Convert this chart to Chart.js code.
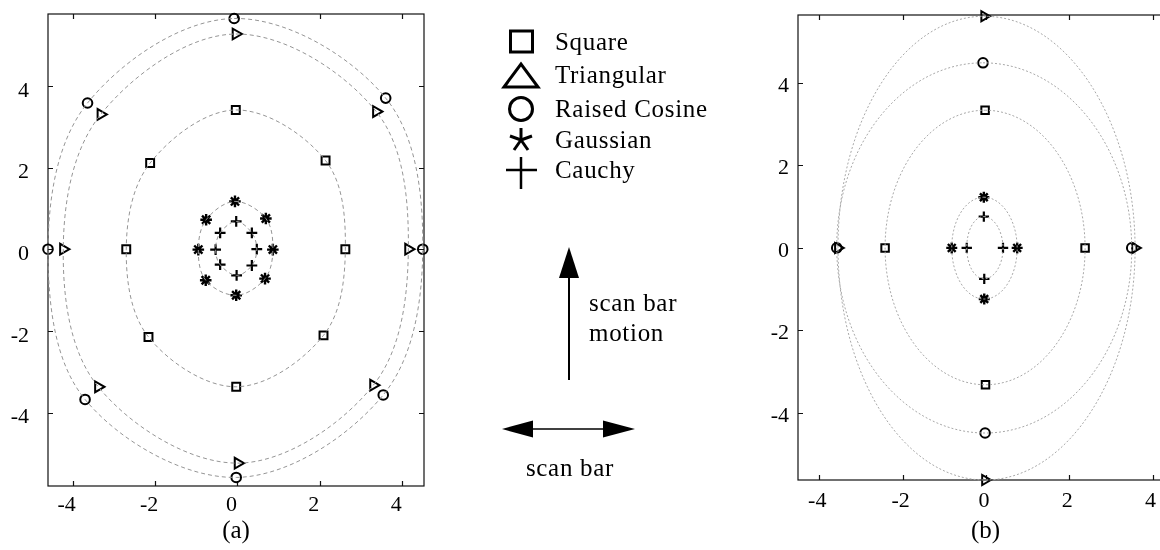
<!DOCTYPE html>
<html>
<head>
<meta charset="utf-8">
<title>scan bar point spread</title>
<script src="https://cdn.jsdelivr.net/npm/chart.js@4.4.1/dist/chart.umd.min.js"></script>
<style>
  html, body { margin:0; padding:0; background:#fff; }
  body { position:relative; width:1160px; height:550px; overflow:hidden; font-family:"Liberation Serif", "Times New Roman", serif; }
  .plot { position:absolute; top:0; width:440px; height:550px; }
  #wrapA { left:0; }
  #wrapB { left:750px; }
  #notes { position:absolute; left:0; top:0; width:1160px; height:550px; pointer-events:none; }
  #notes text { font-family:"Liberation Serif", "Times New Roman", serif; font-size:25px; letter-spacing:0.7px; fill:#000; }
</style>
</head>
<body>
<div class="plot" id="wrapA"><canvas id="plotA"></canvas></div>
<div class="plot" id="wrapB"><canvas id="plotB"></canvas></div>

<svg id="notes" width="1160" height="550">
  <!-- legend -->
  <rect x="510.5" y="31" width="22" height="21" fill="none" stroke="#000" stroke-width="3"/>
  <polygon points="504,87 538,87 521,64" fill="none" stroke="#000" stroke-width="3" stroke-linejoin="miter"/>
  <circle cx="521" cy="109" r="11.5" fill="none" stroke="#000" stroke-width="3"/>
  <g stroke="#000" stroke-width="3" stroke-linecap="butt">
    <line x1="521" y1="140" x2="521" y2="128"/>
    <line x1="521" y1="140" x2="532" y2="136"/>
    <line x1="521" y1="140" x2="510" y2="136"/>
    <line x1="521" y1="140" x2="528" y2="150"/>
    <line x1="521" y1="140" x2="514" y2="150"/>
  </g>
  <g stroke="#000" stroke-width="2.5">
    <line x1="521" y1="157" x2="521" y2="189"/>
    <line x1="506" y1="170" x2="537" y2="170"/>
  </g>
  <text x="555" y="50">Square</text>
  <text x="555" y="83">Triangular</text>
  <text x="555" y="117">Raised Cosine</text>
  <text x="555" y="148">Gaussian</text>
  <text x="555" y="178">Cauchy</text>

  <!-- scan bar motion arrow -->
  <line x1="569" y1="380" x2="569" y2="275" stroke="#000" stroke-width="2"/>
  <polygon points="569,247 559,278 579,278" fill="#000"/>
  <text x="589" y="311">scan bar</text>
  <text x="589" y="341">motion</text>

  <!-- scan bar arrow -->
  <line x1="530" y1="429" x2="605" y2="429" stroke="#000" stroke-width="1.6"/>
  <polygon points="502,429 533,420.5 533,437.5" fill="#000"/>
  <polygon points="635,429 603,420.5 603,437.5" fill="#000"/>
  <text x="570" y="476" text-anchor="middle">scan bar</text>
</svg>

<script>
// ================= DATOS ==================
// (a) 8 marcas por anillo, desde arriba en sentido horario: T, UR, R, LR, B, LL, L, UL
const A_SQUARE   = [[-0.04, 3.41], [2.14, 2.17], [2.62, 0.00], [2.09, -2.11], [-0.03, -3.37], [-2.16, -2.15], [-2.70, 0.00], [-2.12, 2.11]];
const A_TRIANGLE = [[-0.04, 5.27], [3.37, 3.37], [4.15, 0.00], [3.30, -3.33], [0.01, -5.24], [-3.38, -3.37], [-4.23, 0.00], [-3.32, 3.30]];
const A_COSINE   = [[-0.08, 5.65], [3.60, 3.70], [4.50, 0.00], [3.54, -3.57], [-0.03, -5.59], [-3.70, -3.68], [-4.60, 0.00], [-3.64, 3.58]];
const A_GAUSS    = [[-0.06, 1.17], [0.69, 0.75], [0.86, -0.01], [0.67, -0.72], [-0.03, -1.13], [-0.77, -0.76], [-0.95, -0.01], [-0.76, 0.72]];
const A_CAUCHY   = [[-0.03, 0.68], [0.35, 0.40], [0.47, 0.00], [0.35, -0.40], [-0.02, -0.64], [-0.42, -0.38], [-0.53, -0.01], [-0.42, 0.40]];

// (b) 4 marcas por anillo: T, R, B, L
const B_SQUARE   = [[-0.02, 3.34], [2.38, 0], [-0.01, -3.32], [-2.42, 0]];
const B_TRIANGLE = [[-0.04, 5.62], [3.58, 0], [-0.02, -5.63], [-3.55, 0]];
const B_COSINE   = [[-0.07, 4.49], [3.50, 0], [-0.02, -4.49], [-3.58, 0]];
const B_GAUSS    = [[-0.05, 1.23], [0.75, 0], [-0.04, -1.24], [-0.82, 0]];
const B_CAUCHY   = [[-0.05, 0.76], [0.41, 0], [-0.04, -0.75], [-0.46, 0]];

// ejes
const A_XRANGE = [-4.60, 4.53];
const A_YRANGE = [-5.80, 5.76];
const B_XRANGE = [-4.51, 4.49];
const B_YRANGE = [-5.63, 5.65];
const TICK_STEP = 2;

// ================= UTIL ==================
const SERIF = "'Liberation Serif', 'Times New Roman', serif";
const toXY = (pts) => pts.map(p => ({ x: p[0], y: p[1] }));

// anillo cerrado: se repiten vecinos al inicio y al final para que la curva cierre suave,
// y esos dos tramos extra se dejan transparentes
function ringLine(pts, tension, dash, color){
  const n = pts.length;
  const loop = [pts[n-1], ...pts, pts[0], pts[1]];
  return {
    data: toXY(loop), showLine: true, tension, pointRadius: 0,
    borderColor: color, borderWidth: 1, borderDash: dash, clip: false,
    segment: {
      borderColor: c => (c.p0DataIndex === 0 || c.p0DataIndex === n + 1) ? 'rgba(0,0,0,0)' : undefined
    }
  };
}
function markers(pts, style, r, bw, rot){
  return {
    data: toXY(pts), showLine: false, clip: false,
    pointStyle: style, pointRadius: r, pointRotation: rot || 0,
    pointBorderColor: '#000', pointBackgroundColor: 'rgba(0,0,0,0)', pointBorderWidth: bw
  };
}

// marco con ticks hacia adentro (estilo matlab)
const framePlugin = {
  id: 'frame',
  beforeDatasetsDraw(chart){
    const { ctx, chartArea: a, scales: { x, y } } = chart;
    ctx.save();
    ctx.strokeStyle = '#111';
    ctx.lineWidth = 1.2;
    ctx.strokeRect(a.left, a.top, a.right - a.left, a.bottom - a.top);
    ctx.beginPath();
    x.ticks.forEach(t => {
      const px = Math.round(x.getPixelForValue(t.value)) + 0.5;
      ctx.moveTo(px, a.bottom); ctx.lineTo(px, a.bottom - 5);
      ctx.moveTo(px, a.top);    ctx.lineTo(px, a.top + 5);
    });
    y.ticks.forEach(t => {
      const py = Math.round(y.getPixelForValue(t.value)) + 0.5;
      ctx.moveTo(a.left, py);  ctx.lineTo(a.left + 5, py);
      ctx.moveTo(a.right, py); ctx.lineTo(a.right - 5, py);
    });
    ctx.stroke();
    ctx.restore();
  }
};

// tamaño fijo de ejes, sin el relleno extra que chart.js reserva para las etiquetas
function fixAxis(s, w, h){
  if (w != null) s.width = w;
  if (h != null) s.height = h;
  s.paddingTop = 0; s.paddingBottom = 0; s.paddingLeft = 0; s.paddingRight = 0;
}

function makePlot(canvasId, cfg){
  return new Chart(document.getElementById(canvasId).getContext('2d'), {
    type: 'scatter',
    data: { datasets: cfg.datasets },
    options: {
      responsive: true, maintainAspectRatio: false, animation: false, events: [],
      layout: { padding: cfg.padding },
      plugins: { legend: { display: false }, tooltip: { enabled: false } },
      scales: {
        x: {
          type: 'linear', min: cfg.xr[0], max: cfg.xr[1],
          grid: { display: false, drawTicks: false }, border: { display: false },
          ticks: { stepSize: TICK_STEP, includeBounds: false, color: '#000', padding: cfg.xPad, labelOffset: cfg.xLabelOff,
                   maxRotation: 0, font: { family: SERIF, size: 22 } },
          title: { display: true, text: cfg.title, color: '#000', font: { family: SERIF, size: 25 }, padding: { top: 0, bottom: cfg.titlePad } },
          afterFit: s => fixAxis(s, null, cfg.xAxisH)
        },
        y: {
          type: 'linear', min: cfg.yr[0], max: cfg.yr[1],
          grid: { display: false, drawTicks: false }, border: { display: false },
          ticks: { stepSize: TICK_STEP, includeBounds: false, color: '#000', padding: cfg.yPad, labelOffset: cfg.yLabelOff,
                   font: { family: SERIF, size: 22 } },
          afterFit: s => fixAxis(s, cfg.yAxisW, null)
        }
      }
    },
    plugins: [framePlugin]
  });
}

// ================= GRAFICOS ==================
const LINE_A = '#959595', LINE_B = '#a8a8a8';
const DASH_A = [4, 3], DASH_B = [2, 2];
const T8 = 0.35, T4 = 0.55;

makePlot('plotA', {
  xr: A_XRANGE, yr: A_YRANGE, title: '(a)',
  padding: { top: 14, right: 16, left: 0, bottom: 0 },
  yAxisW: 48, xAxisH: 64, xPad: 6, yPad: 19, xLabelOff: -6, yLabelOff: 5, titlePad: 4,
  datasets: [
    ringLine(A_COSINE, T8, DASH_A, LINE_A),
    ringLine(A_TRIANGLE, T8, DASH_A, LINE_A),
    ringLine(A_SQUARE, T8, DASH_A, LINE_A),
    ringLine(A_GAUSS, T8, DASH_A, LINE_A),
    ringLine(A_CAUCHY, T8, DASH_A, LINE_A),
    markers(A_SQUARE, 'rect', 5.6, 2),
    markers(A_TRIANGLE, 'triangle', 6.2, 2, 90),
    markers(A_COSINE, 'circle', 4.8, 2),
    markers(A_GAUSS, 'star', 5.8, 2.4),
    markers(A_CAUCHY, 'cross', 5.4, 2.2)
  ]
});

makePlot('plotB', {
  xr: B_XRANGE, yr: B_YRANGE, title: '(b)',
  padding: { top: 15, right: 17, left: 0, bottom: 0 },
  yAxisW: 48, xAxisH: 70, xPad: 8, yPad: 9, xLabelOff: -2, yLabelOff: 3, titlePad: 4,
  datasets: [
    ringLine(B_TRIANGLE, T4, DASH_B, LINE_B),
    ringLine(B_COSINE, T4, DASH_B, LINE_B),
    ringLine(B_SQUARE, T4, DASH_B, LINE_B),
    ringLine(B_GAUSS, T4, DASH_B, LINE_B),
    ringLine(B_CAUCHY, T4, DASH_B, LINE_B),
    markers(B_SQUARE, 'rect', 5.3, 2),
    markers(B_TRIANGLE, 'triangle', 5.8, 2, 90),
    markers(B_COSINE, 'circle', 4.8, 2),
    markers(B_GAUSS, 'star', 5.5, 2.4),
    markers(B_CAUCHY, 'cross', 5.2, 2.2)
  ]
});
</script>
</body>
</html>
